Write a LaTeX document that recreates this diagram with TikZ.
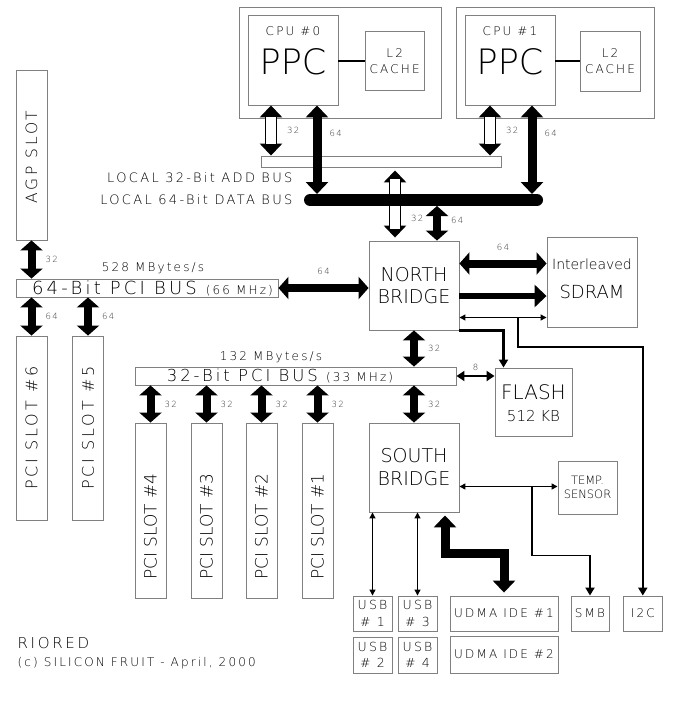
\documentclass[tikz,border=0pt]{standalone}
\usepackage{fontspec}
\setmainfont{DejaVu Sans ExtraLight}
\newfontfamily\wide{DejaVu Sans ExtraLight}[LetterSpace=18]
\usetikzlibrary{arrows.meta,positioning}
\definecolor{Frame}{HTML}{808080}
\newcommand\fsz[2]{\fontsize{#1}{#2}\selectfont}

\begin{document}
\begin{tikzpicture}[x=1pt,y=-1pt,>=Latex]
  \tikzset{
    unit/.style={draw=Frame, line width=0.9pt, inner sep=0pt, align=center},
    slottext/.style={rotate=90, inner sep=0pt},
    widthlabel/.style={font=\wide\fsz{8.5}{9}, text=black!80, inner sep=1pt},
    fathead/.tip={Triangle[width=22pt,length=10pt]},
    cpuhead/.tip={Triangle[width=22pt,length=12pt]},
    smallhead/.tip={Triangle[width=10pt,length=8pt]},
    linkhead/.tip={Triangle[width=9pt,length=8pt]},
    thinhead/.tip={Triangle[width=6pt,length=6pt]},
    fatbus/.style={line width=8pt, fathead-fathead},
    cpubus/.style={line width=9pt, cpuhead-cpuhead},
    hollowbus/.style={line width=12pt, cpuhead-cpuhead,
      postaction={draw=white, line width=10pt, -, shorten <=12pt, shorten >=12pt}},
    databus/.style={line width=12pt, line cap=round},
    sdrambus/.style={line width=6pt, -cpuhead},
    idebus/.style={line width=9pt, cpuhead-cpuhead},
    flashbus/.style={line width=2.5pt, smallhead-smallhead},
    link/.style={line width=2.2pt, -linkhead},
    ctrl/.style={line width=1.2pt, thinhead-thinhead},
    ctrlbold/.style={line width=1.8pt, thinhead-thinhead}
  }
  \useasboundingbox (0,0) rectangle (700,715);

  % processors
  \node[unit, minimum width=202pt, minimum height=111pt] (board0) at (340,62.5) {};
  \node[unit, minimum size=90pt] (ppc0) at (293,60) {};
  \node[font=\wide\fsz{12}{14}] at ([yshift=-17pt]ppc0.north) {CPU \#0};
  \node[font=\fsz{35}{37}] at ([yshift=-2pt]ppc0.center) {PPC};
  \node[unit, minimum size=59pt, font=\wide\fsz{12}{16}] (cache0) at (394.7,61.2) {L2\\CACHE};
  \draw[line width=2pt] (ppc0.east |- cache0.west) -- (cache0.west);

  \node[unit, minimum width=198pt, minimum height=111pt] (board1) at (555,62.5) {};
  \node[unit, minimum size=90pt] (ppc1) at (510,60) {};
  \node[font=\wide\fsz{12}{14}] at ([yshift=-17pt]ppc1.north) {CPU \#1};
  \node[font=\fsz{35}{37}] at ([yshift=-2pt]ppc1.center) {PPC};
  \node[unit, minimum size=60pt, font=\wide\fsz{12}{16}] (cache1) at (610,61) {L2\\CACHE};
  \draw[line width=2pt] (ppc1.east |- cache1.west) -- (cache1.west);

  % local buses
  \node[unit, minimum width=240pt, minimum height=11pt] (addbus) at (381,161.5) {};
  \node[anchor=east, font=\wide\fsz{13}{15}] (addname) at (296,178) {LOCAL 32-Bit ADD BUS};
  \node[anchor=east, font=\wide\fsz{13}{15}] (dataname) at (296,200) {LOCAL 64-Bit DATA BUS};
  \coordinate (dbl) at (310,200);
  \coordinate (dbr) at (537,200);

  % bridges and memory
  \node[unit, minimum width=90pt, minimum height=89pt, font=\fsz{19}{22}] (nb) at (414,285.5) {NORTH\\BRIDGE};
  \node[unit, minimum size=90pt] (sdram) at (592,282) {};
  \node[font=\fsz{14}{16}] at ([yshift=18pt]sdram.center) {Interleaved};
  \node[font=\fsz{18}{20}] at ([yshift=-10pt]sdram.center) {SDRAM};
  \node[unit, minimum width=77pt, minimum height=68pt] (flash) at (533.5,402) {};
  \node[font=\fsz{20}{22}] at ([yshift=10pt]flash.center) {FLASH};
  \node[font=\fsz{15}{17}] at ([yshift=-14.5pt]flash.center) {512 KB};
  \node[unit, minimum width=90pt, minimum height=89pt, font=\fsz{19}{23}] (sb) at (414,467.5) {SOUTH\\BRIDGE};
  \node[unit, minimum width=59pt, minimum height=53pt, font=\fsz{11.5}{14}] (temp) at (587.5,487.5) {TEMP.\\SENSOR};

  % peripherals
  \node[unit, minimum width=39pt, minimum height=35pt, font=\wide\fsz{12.5}{16.5}] (usb1) at (372.5,613.5) {USB\\\# 1};
  \node[unit, minimum width=39pt, minimum height=35pt, font=\wide\fsz{12.5}{16.5}] (usb3) at (417.5,613.5) {USB\\\# 3};
  \node[unit, minimum width=39pt, minimum height=36pt, font=\wide\fsz{12.5}{16.5}] (usb2) at (372.5,655) {USB\\\# 2};
  \node[unit, minimum width=39pt, minimum height=36pt, font=\wide\fsz{12.5}{16.5}] (usb4) at (417.5,655) {USB\\\# 4};
  \node[unit, minimum width=108pt, minimum height=35pt, font=\wide\fsz{12}{14}] (udma1) at (504,613.5) {UDMA IDE \#1};
  \node[unit, minimum width=108pt, minimum height=37pt, font=\wide\fsz{12}{14}] (udma2) at (504,654.5) {UDMA IDE \#2};
  \node[unit, minimum width=38pt, minimum height=35pt, font=\wide\fsz{12}{14}] (smb) at (590,613.5) {SMB};
  \node[unit, minimum width=39.5pt, minimum height=35pt, font=\wide\fsz{12}{14}] (i2c) at (642.8,613.5) {I2C};

  % PCI buses and slots
  \node[unit, minimum width=262pt, minimum height=18pt] (pci64) at (147,288) {};
  \node[font=\wide\fsz{18}{20}] at ([xshift=5.5pt]pci64.center) {64-Bit PCI BUS {\fsz{12}{14}(66 MHz)}};
  \node[font=\wide\fsz{12}{14}] (rate64) at (153,268) {528 MBytes/s};
  \node[unit, minimum width=321pt, minimum height=18pt] (pci32) at (295.5,376) {};
  \node[font=\wide\fsz{16.5}{18}] at ([xshift=-15.5pt]pci32.center) {32-Bit PCI BUS {\fsz{12}{14}(33 MHz)}};
  \node[font=\wide\fsz{12}{14}] (rate32) at (271,357) {132 MBytes/s};

  \node[unit, minimum width=31pt, minimum height=170pt] (agp) at (31.5,155) {};
  \node[slottext, font=\wide\fsz{15.5}{17}] at ([yshift=-2pt]agp.center) {AGP SLOT};
  \foreach \name/\x/\num in {slot6/31.5/6, slot5/88/5} {
    \node[unit, minimum width=31pt, minimum height=184pt] (\name) at (\x,428) {};
    \node[slottext, font=\wide\fsz{16}{18}] at (\name.center) {PCI SLOT \#\num};
  }
  \foreach \name/\x/\num in {slot4/150.5/4, slot3/206.5/3, slot2/261.5/2, slot1/317.5/1} {
    \node[unit, minimum width=31pt, minimum height=175pt] (\name) at (\x,510.5) {};
    \node[slottext, font=\fsz{17}{19}] at ([yshift=-16pt]\name.center) {PCI SLOT \#\num};
  }

  % address paths
  \draw[hollowbus] ([xshift=-22pt]ppc0.south) -- ([xshift=-22pt]ppc0.south |- addbus.north)
    node[midway, right=9pt, widthlabel] {32};
  \draw[hollowbus] ([xshift=-20pt]ppc1.south) -- ([xshift=-20pt]ppc1.south |- addbus.north)
    node[midway, right=9pt, widthlabel] {32};
  \draw[hollowbus, shorten <=3pt, shorten >=3pt] ([xshift=-19pt]nb.north |- addbus.south) -- ([xshift=-19pt]nb.north)
    node[pos=0.7, right=9pt, widthlabel] {32};

  % data paths
  \draw[databus] (dbl) -- (dbr);
  \draw[cpubus, shorten >=6pt] ([xshift=24pt]ppc0.south) -- ([xshift=24pt]ppc0.south |- dbl)
    node[pos=0.3, right=7pt, widthlabel] {64};
  \draw[cpubus, shorten >=6pt] ([xshift=22pt]ppc1.south) -- ([xshift=22pt]ppc1.south |- dbl)
    node[pos=0.3, right=7pt, widthlabel] {64};
  \draw[fatbus, shorten <=6pt] ([xshift=23pt]nb.north |- dbl) -- ([xshift=23pt]nb.north)
    node[midway, right=9pt, widthlabel] {64};

  % north bridge links
  \draw[fatbus] ([yshift=22pt]nb.east) -- ([yshift=22pt]nb.east -| sdram.west)
    node[midway, above=8pt, widthlabel] {64};
  \draw[sdrambus] ([yshift=-10.5pt]nb.east) -- ([yshift=-10.5pt]nb.east -| sdram.west);
  \draw[ctrl] ([yshift=-32pt]nb.east) -- ([yshift=-32pt]nb.east -| sdram.west);
  \coordinate (i2ctap) at (518,317.5);
  \draw[link, line width=2pt] (i2ctap) -- ++(0,29) -| (i2c.north);
  \draw[link] (nb.south east) -| ([xshift=-30pt]flash.north);
  \draw[fatbus] (pci64.east) -- (pci64.east -| nb.west)
    node[midway, above=8pt, widthlabel] {64};
  \draw[fatbus] (nb.south) -- (nb.south |- pci32.north)
    node[midway, right=9pt, widthlabel] {32};

  % PCI slot links
  \draw[fatbus] (agp.south) -- (agp.south |- pci64.north)
    node[midway, right=9pt, widthlabel] {32};
  \foreach \name in {slot6, slot5}
    \draw[fatbus] (\name.north |- pci64.south) -- (\name.north)
      node[midway, right=9pt, widthlabel] {64};
  \foreach \name in {slot4, slot3, slot2, slot1}
    \draw[fatbus] (\name.north |- pci32.south) -- (\name.north)
      node[midway, right=9pt, widthlabel] {32};
  \draw[flashbus] (pci32.east) -- (pci32.east -| flash.west)
    node[midway, above=3pt, widthlabel] {8};

  % south bridge links
  \draw[fatbus] (sb.north |- pci32.south) -- (sb.north)
    node[midway, right=9pt, widthlabel] {32};
  \draw[ctrlbold] ([yshift=-19pt]sb.east) -- ([yshift=-19pt]sb.east -| temp.west);
  \coordinate (smbtap) at (532,486.5);
  \draw[link, line width=1.8pt] (smbtap) -- ++(0,69) -| (smb.north);
  \draw[ctrl] (usb1.north |- sb.south) -- (usb1.north);
  \draw[ctrl] (usb3.north |- sb.south) -- (usb3.north);
  \draw[idebus, shorten <=3pt, shorten >=3pt] ([xshift=31pt]sb.south) -- ++(0,41) -| (udma1.north);

  % credits
  \node[anchor=west, font=\wide\fsz{15}{17}] (title) at (14,643) {RIORED};
  \node[anchor=west, font=\wide\fsz{12}{14}] (credit) at (14,663) {(c) SILICON FRUIT - April, 2000};
\end{tikzpicture}
\end{document}
